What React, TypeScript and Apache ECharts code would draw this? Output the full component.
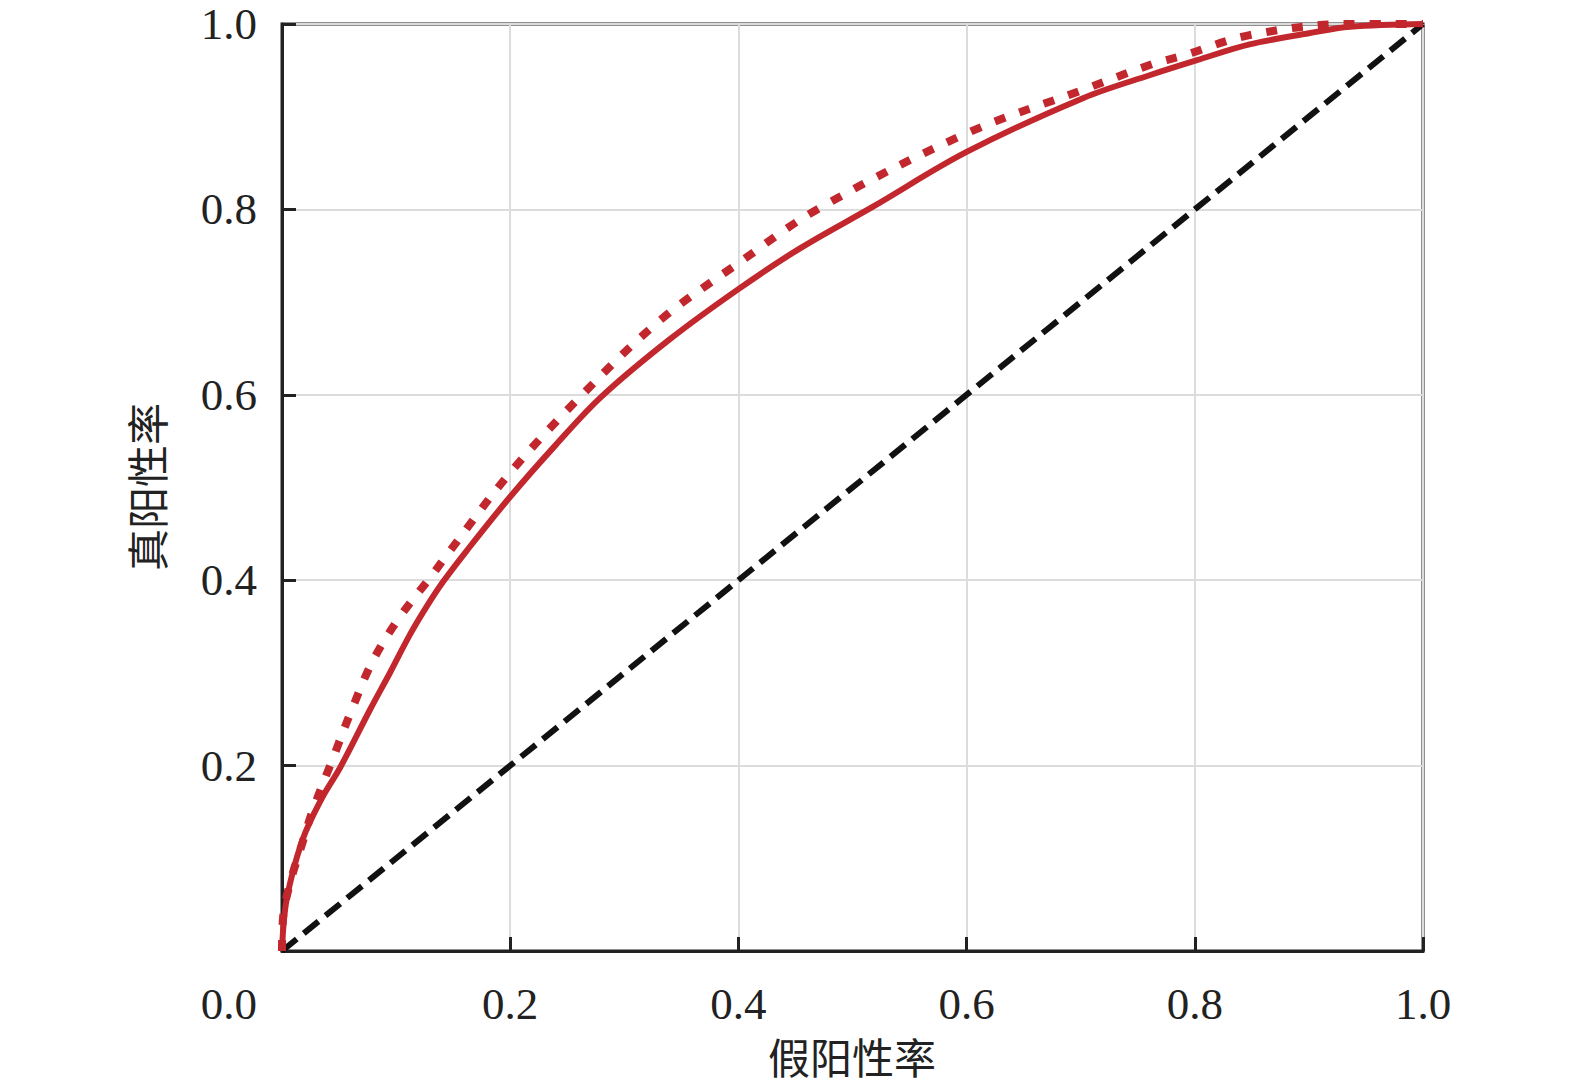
import React, { useEffect, useRef } from "react";
import * as echarts from "echarts";

const diagX = [0, 1];
const diagY = [0, 1];

const solidX = [0, 0.004, 0.018, 0.035, 0.051, 0.077, 0.095, 0.112, 0.127, 0.141, 0.162, 0.2, 0.24, 0.28, 0.34, 0.4, 0.454, 0.518, 0.6, 0.702, 0.761, 0.802, 0.848, 0.9, 0.936, 1];
const solidY = [0, 0.055, 0.12, 0.165, 0.198, 0.26, 0.301, 0.341, 0.372, 0.398, 0.432, 0.49, 0.546, 0.598, 0.66, 0.714, 0.758, 0.803, 0.862, 0.92, 0.945, 0.961, 0.978, 0.99, 0.997, 1];

const dottedX = [0, 0.001, 0.007, 0.018, 0.027, 0.045, 0.062, 0.08, 0.103, 0.13, 0.145, 0.2, 0.263, 0.331, 0.4, 0.469, 0.6, 0.702, 0.761, 0.79, 0.848, 0.936, 1];
const dottedY = [0, 0.037, 0.073, 0.117, 0.152, 0.209, 0.263, 0.314, 0.36, 0.403, 0.428, 0.516, 0.6, 0.68, 0.742, 0.8, 0.882, 0.929, 0.956, 0.966, 0.988, 1.0, 1];

const xName = "假阳性率";
const yName = "真阳性率";
const cornerLabel = "0.0";

const zip = (xs: number[], ys: number[]) => xs.map((x, i) => [x, ys[i]]);

const SERIF = "'Liberation Serif', 'Times New Roman', serif";
const CJK = "'Noto Sans CJK SC', sans-serif";
const RED = "#C1272D";

export default function App() {
  const ref = useRef<HTMLDivElement>(null);
  useEffect(() => {
    if (!ref.current) return;
    const chart = echarts.init(ref.current, null, { renderer: "svg" });
    const fmt = (v: number) => (Math.abs(v) < 1e-9 ? "" : v.toFixed(1));
    chart.setOption({
      animation: false,
      backgroundColor: "#fff",
      grid: {
        left: 282,
        top: 24,
        width: 1141,
        height: 927,
        show: true,
        borderColor: "#222",
        borderWidth: 3,
        backgroundColor: "transparent",
      },
      xAxis: {
        type: "value",
        min: 0,
        max: 1,
        interval: 0.2,
        axisLine: { show: true, lineStyle: { color: "#222", width: 3 } },
        axisTick: { show: true, inside: true, length: 14, lineStyle: { color: "#222", width: 3 } },
        splitLine: { show: true, lineStyle: { color: "#dcdcdc", width: 2 } },
        axisLabel: {
          formatter: fmt,
          fontFamily: SERIF,
          fontSize: 45,
          color: "#222",
          margin: 30,
        },
      },
      yAxis: {
        type: "value",
        min: 0,
        max: 1,
        interval: 0.2,
        axisLine: { show: true, lineStyle: { color: "#222", width: 3 } },
        axisTick: { show: true, inside: true, length: 14, lineStyle: { color: "#222", width: 3 } },
        splitLine: { show: true, lineStyle: { color: "#dcdcdc", width: 2 } },
        axisLabel: {
          formatter: fmt,
          fontFamily: SERIF,
          fontSize: 45,
          color: "#222",
          margin: 25,
        },
      },
      graphic: [
        {
          type: "text",
          x: 257,
          y: 1004,
          style: {
            text: cornerLabel,
            font: `45px ${SERIF}`,
            fill: "#222",
            textAlign: "right",
            textVerticalAlign: "middle",
          },
        },
        {
          type: "text",
          x: 852,
          y: 1055,
          style: {
            text: xName,
            font: `42px ${CJK}`,
            fill: "#222",
            textAlign: "center",
            textVerticalAlign: "middle",
          },
        },
        {
          type: "text",
          x: 145,
          y: 487,
          rotation: Math.PI / 2,
          style: {
            text: yName,
            font: `42px ${CJK}`,
            fill: "#222",
            textAlign: "center",
            textVerticalAlign: "middle",
          },
        },
      ],
      series: [
        {
          type: "line",
          data: zip(diagX, diagY),
          showSymbol: false,
          clip: false,
          lineStyle: { color: "#111", width: 6, type: [19, 9] },
          z: 3,
        },
        {
          type: "line",
          data: zip(solidX, solidY),
          showSymbol: false,
          smooth: 0.35,
          clip: false,
          lineStyle: { color: RED, width: 6 },
          z: 4,
        },
        {
          type: "line",
          data: zip(dottedX, dottedY),
          showSymbol: false,
          smooth: 0.35,
          clip: false,
          lineStyle: { color: RED, width: 8, type: [11, 15] },
          z: 5,
        },
      ],
    });
    return () => chart.dispose();
  }, []);
  return (
    <div
      ref={ref}
      style={{ position: "absolute", left: 0, top: 0, width: 1575, height: 1088 }}
    />
  );
}
